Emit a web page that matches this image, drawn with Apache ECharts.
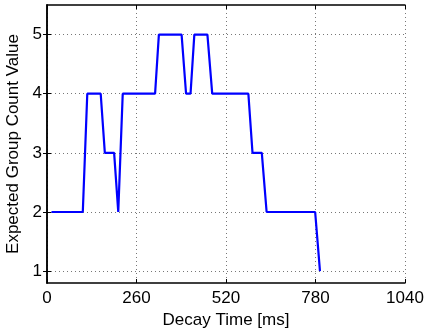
<!DOCTYPE html>
<html><head><meta charset="utf-8">
<script src="https://cdn.jsdelivr.net/npm/echarts@6/dist/echarts.min.js"></script>
<style>html,body{margin:0;padding:0;background:#fff}#c{width:427px;height:329px}</style>
</head><body><div id="c"></div>
<script>
var decayTimes = [13, 104, 117, 156, 168, 195, 207, 220, 314, 325, 391, 404, 417, 428, 466, 480, 585, 597, 624, 638, 779, 793];
var groupCounts = [2, 2, 4, 4, 3, 3, 2, 4, 4, 5, 5, 4, 4, 5, 5, 4, 4, 3, 3, 2, 2, 1];
var xTicks = [0, 260, 520, 780, 1040];
var yTicks = [1, 2, 3, 4, 5];

var font = 'Liberation Sans, Arial, sans-serif';
var fs = 17;
var data = decayTimes.map(function(t, i){ return [t, groupCounts[i]]; });
var chart = echarts.init(document.getElementById('c'));
var axisLine = {show: true, lineStyle: {color: '#000', width: 1.5}};
var split = {show: true, lineStyle: {color: '#777', type: [1, 3], width: 1}};
chart.setOption({
  animation: false,
  grid: {left: 47, right: 22, top: 5, bottom: 46, outerBoundsMode: 'none', containLabel: false},
  xAxis: [{
    type: 'value', min: 0, max: 1040,
    axisLine: axisLine,
    axisTick: {show: true, inside: true, length: 4, lineStyle: {color: '#000'}, customValues: xTicks},
    splitLine: split,
    axisLabel: {color: '#000', fontSize: fs, fontFamily: font, margin: 7,
      customValues: xTicks, formatter: function(v){ return String(v); }},
    name: 'Decay Time [ms]', nameLocation: 'middle', nameGap: 21,
    nameTextStyle: {color: '#000', fontSize: fs, fontFamily: font}
  }, {
    type: 'value', position: 'top', min: 0, max: 1040,
    axisLine: axisLine,
    axisTick: {show: true, inside: true, length: 4, lineStyle: {color: '#000'}, customValues: xTicks},
    splitLine: {show: false}, axisLabel: {show: false}
  }],
  yAxis: [{
    type: 'value', min: 0.8, max: 5.5,
    axisLine: axisLine,
    axisLabel: {color: '#000', fontSize: fs, fontFamily: font, margin: 5,
      customValues: yTicks},
    axisTick: {show: true, inside: true, length: 4, lineStyle: {color: '#000'}, customValues: yTicks},
    splitLine: split,
    name: 'Expected Group Count Value', nameLocation: 'middle', nameGap: 21,
    nameTextStyle: {color: '#000', fontSize: fs, fontFamily: font}
  }, {
    type: 'value', position: 'right', min: 0.8, max: 5.5,
    axisLine: axisLine,
    axisTick: {show: true, inside: true, length: 4, lineStyle: {color: '#000'}, customValues: yTicks},
    splitLine: {show: false}, axisLabel: {show: false}
  }],
  series: [{
    type: 'line', data: data, symbol: 'none',
    lineStyle: {color: '#0000ff', width: 2.2}
  }]
});
</script></body></html>
